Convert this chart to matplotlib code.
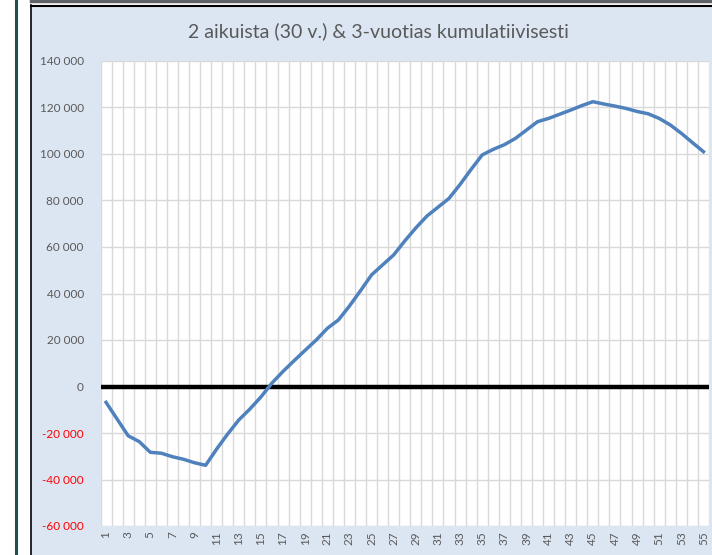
import numpy as np
import matplotlib
matplotlib.use("Agg")
import matplotlib.pyplot as plt
from matplotlib.lines import Line2D
from matplotlib.patches import Rectangle

# --- data ---
years = list(range(1, 56))
cumulative = [
    -6800, -14000, -21200, -23700, -28300, -28700, -30200, -31300, -32800, -33900,
    -26900, -20400, -14400, -9700, -4500, 1500, 6500, 11100, 15600, 20000,
    25000, 28600, 34600, 41200, 48000, 52300, 56600, 62600, 68200, 73300,
    77100, 80900, 86900, 93400, 99600, 102000, 104000, 106700, 110300, 113900,
    115300, 117100, 118900, 120800, 122500, 121500, 120600, 119600, 118300, 117300,
    115300, 112500, 108900, 104900, 101000,
]
y_ticks = list(range(-60000, 140001, 20000))
title = "2 aikuista (30 v.) & 3-vuotias kumulatiivisesti"

plt.rcParams['font.family'] = ['Lato', 'DejaVu Sans']

W, H = 712, 555
fig = plt.figure(figsize=(W / 100, H / 100), dpi=100)
fig.patch.set_facecolor("white")

# chart area background and frame lines
fig.patches.append(Rectangle((32 / W, 0), 1, 1 - 7 / H, transform=fig.transFigure,
                             facecolor="#DCE6F2", edgecolor="none", zorder=-5))
fig.lines.append(Line2D([31.5 / W, 31.5 / W], [0, 1 - 5 / H], transform=fig.transFigure,
                        color="black", lw=1.2))
fig.lines.append(Line2D([31 / W, 1], [1 - 6 / H, 1 - 6 / H], transform=fig.transFigure,
                        color="black", lw=1.5))
fig.lines.append(Line2D([31 / W, 1], [1 - 1 / H, 1 - 1 / H], transform=fig.transFigure,
                        color="#5F6368", lw=2.5))
fig.lines.append(Line2D([16 / W, 16 / W], [0, 1], transform=fig.transFigure,
                        color="#1F4E4F", lw=2.2))

# plot area
left, right, top, bottom = 100.5, 709, 61, 526
ax = fig.add_axes([left / W, 1 - bottom / H, (right - left) / W, (bottom - top) / H])
ax.set_zorder(2)
ax.set_facecolor("white")
ax.set_xlim(0.5, 55.5)
ax.set_ylim(-60000, 140000)

for s in ax.spines.values():
    s.set_visible(False)

# grid
for k in range(56):
    ax.axvline(0.5 + k, color="#D9D9D9", lw=1.0, zorder=1)
for v in y_ticks:
    ax.axhline(v, color="#D9D9D9", lw=1.0, zorder=1)
ax.axhline(0, color="black", lw=3.2, zorder=3)

ax.plot(years, cumulative, color="#4F81BD", lw=2.5, zorder=4, solid_joinstyle="round")

ax.set_yticks(y_ticks)
ax.set_yticklabels([f"{v:,}".replace(",", " ") for v in y_ticks], fontsize=8.5)
for lab, v in zip(ax.get_yticklabels(), y_ticks):
    lab.set_color("#FF0000" if v < 0 else "#595959")

odd = years[::2]
ax.set_xticks(odd)
ax.set_xticklabels([str(x) for x in odd], rotation=90, fontsize=8.5, color="#595959")
ax.tick_params(axis="both", length=0)
ax.tick_params(axis="y", pad=12)
ax.tick_params(axis="x", pad=4)

fig.text(378 / W, 1 - 31 / H, title, ha="center", va="center", fontsize=14, color="#595959")

fig.savefig("out.png", dpi=100)
